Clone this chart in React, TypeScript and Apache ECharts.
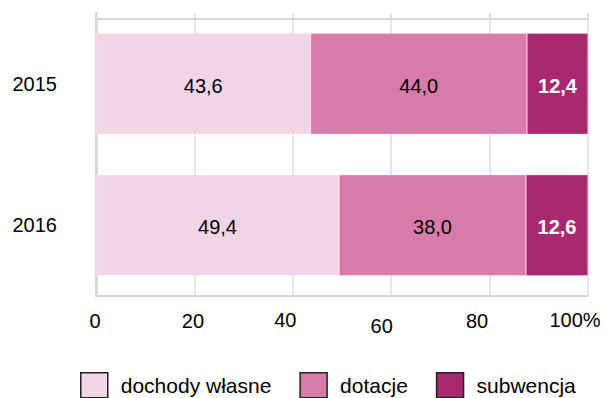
import React, { useEffect, useRef } from "react";
import * as echarts from "echarts";

const categories = ["2015", "2016"];
const seriesNames = ["dochody własne", "dotacje", "subwencja"];
const dochodyWlasne = [43.6, 49.4];
const dotacje = [44.0, 38.0];
const subwencja = [12.4, 12.6];
const xTicks = [0, 20, 40, 60, 80, 100];

const colors = ["#F1D5E7", "#D87BAB", "#A8296F"];
const FONT = "'Liberation Sans', Arial, sans-serif";

const fmt = (v: number) => v.toFixed(1).replace(".", ",");

export default function App() {
  const ref = useRef<HTMLDivElement>(null);
  useEffect(() => {
    if (!ref.current) return;
    const chart = echarts.init(ref.current, null, { renderer: "svg" });
    const labelPad: Record<number, number[]> = {
      0: [1, 2, 0, 0],
      20: [1, 3, 0, 0],
      40: [0, 15, 0, 0],
      60: [6, 19, 0, 0],
      80: [1, 25, 0, 0],
      100: [0, 26, 0, 0],
    };
    const rich: Record<string, any> = {};
    xTicks.forEach((t) => {
      rich["t" + t] = {
        fontSize: 20,
        fontFamily: FONT,
        color: "#000",
        padding: labelPad[t],
      };
    });
    const mk = (name: string, data: number[], idx: number) => ({
      name,
      type: "bar",
      stack: "total",
      data,
      barWidth: "71.5%",
      itemStyle: { color: colors[idx], borderColor: "rgba(255,255,255,0.6)", borderWidth: 0.5 },
      label: {
        show: true,
        position: "inside",
        offset: [0, 2],
        formatter: (p: any) => fmt(p.value),
        fontSize: 20,
        fontFamily: FONT,
        color: idx === 2 ? "#fff" : "#000",
        fontWeight: idx === 2 ? "bold" : "normal",
      },
    });
    chart.setOption({
      animation: false,
      grid: { left: 96, right: 25, top: 13, bottom: 102, containLabel: false },
      xAxis: [
        {
          type: "value",
          min: 0,
          max: 100,
          interval: 20,
          position: "bottom",
          axisLine: { show: true, lineStyle: { color: "#d6d6d6", width: 2 } },
          axisTick: { show: false },
          splitLine: { show: true, lineStyle: { color: "#dcdcdc", width: 1.5 } },
          axisLabel: {
            margin: 14,
            formatter: (v: number) => `{t${v}|${v === 100 ? "100%" : v}}`,
            rich,
          },
        },
        {
          type: "value",
          min: 0,
          max: 100,
          interval: 20,
          position: "top",
          offset: -6,
          axisLine: { show: true, lineStyle: { color: "#d6d6d6", width: 2 } },
          axisTick: { show: true, length: 6, lineStyle: { color: "#dcdcdc", width: 1.5 } },
          splitLine: { show: false },
          axisLabel: { show: false },
        },
      ],
      yAxis: {
        type: "category",
        data: categories,
        inverse: true,
        axisLine: { show: true, lineStyle: { color: "#d6d6d6", width: 2.5 } },
        axisTick: { show: false },
        axisLabel: {
          fontSize: 20,
          fontFamily: FONT,
          color: "#000",
          margin: 39,
          padding: [4, 0, 0, 0],
        },
      },
      legend: {
        data: seriesNames,
        left: 80,
        top: 372,
        padding: 0,
        icon: "rect",
        itemWidth: 27,
        itemHeight: 25,
        itemGap: 28,
        itemStyle: { borderColor: "#222", borderWidth: 1.5 },
        textStyle: {
          fontSize: 21,
          lineHeight: 21,
          fontFamily: FONT,
          color: "#000",
          padding: [0, 0, 0, 8],
        },
      },
      series: [
        mk(seriesNames[0], dochodyWlasne, 0),
        mk(seriesNames[1], dotacje, 1),
        mk(seriesNames[2], subwencja, 2),
      ],
    });
    return () => chart.dispose();
  }, []);
  return (
    <div
      ref={ref}
      style={{ position: "absolute", left: 0, top: 0, width: 613, height: 398 }}
    />
  );
}
